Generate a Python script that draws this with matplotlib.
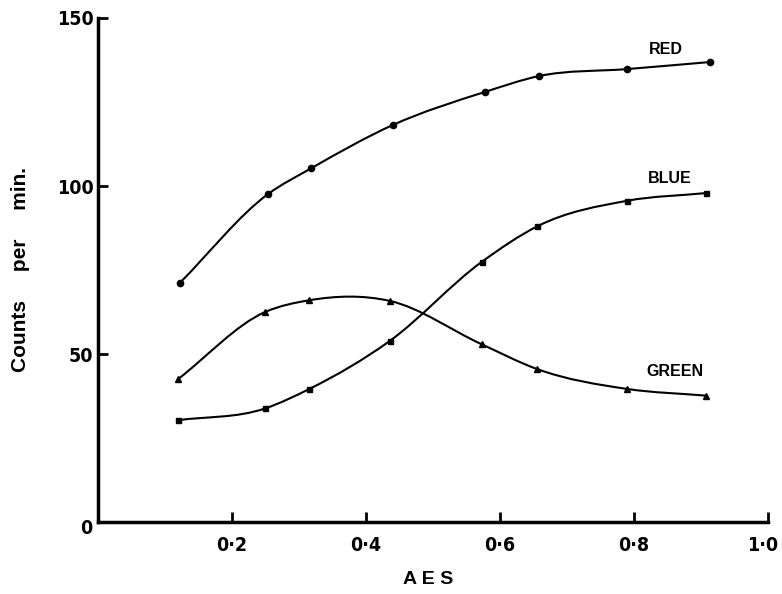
import matplotlib.pyplot as plt
import numpy as np
from matplotlib.path import Path
from matplotlib.patches import PathPatch
from matplotlib.transforms import ScaledTranslation

# данные
aes_red = [0.123, 0.255, 0.319, 0.441, 0.578, 0.658, 0.790, 0.914]
red = [71.2, 97.7, 105.3, 118.2, 128.0, 132.7, 134.8, 136.9]

aes_bg = [0.120, 0.250, 0.316, 0.436, 0.573, 0.656, 0.790, 0.908]
blue = [30.3, 33.8, 39.6, 53.9, 77.4, 88.0, 95.6, 97.9]
green = [42.5, 62.5, 66.0, 65.8, 52.9, 45.5, 39.6, 37.6]

x_ticks = [0.2, 0.4, 0.6, 0.8, 1.0]
x_labels = ['0·2', '0·4', '0·6', '0·8', '1·0']
y_ticks = [0, 50, 100, 150]
y_labels = ['', '50', '100', '150']

plt.rcParams['font.family'] = ['Liberation Sans', 'DejaVu Sans']
num_font = dict(family='DejaVu Sans', fontstretch='condensed', fontweight='bold', fontsize=14)


def smooth_path(xs, ys):
    # гладкая кривая через точки: эрмитовы сплайны как кубические Безье
    x = np.asarray(xs, float)
    y = np.asarray(ys, float)
    h = np.diff(x)
    d = np.diff(y) / h
    m = np.empty_like(y)
    m[0], m[-1] = d[0], d[-1]
    m[1:-1] = (h[:-1] * d[1:] + h[1:] * d[:-1]) / (h[:-1] + h[1:])
    verts = [(x[0], y[0])]
    codes = [Path.MOVETO]
    for i in range(len(x) - 1):
        verts += [(x[i] + h[i] / 3, y[i] + m[i] * h[i] / 3),
                  (x[i + 1] - h[i] / 3, y[i + 1] - m[i + 1] * h[i] / 3),
                  (x[i + 1], y[i + 1])]
        codes += [Path.CURVE4] * 3
    return Path(verts, codes)


fig = plt.figure(figsize=(7.82, 5.94), dpi=100)
ax = fig.add_axes([0.1247, 0.1212, 0.8573, 0.8485])

for xs, ys, mk, ms in [(aes_red, red, 'o', 4.5),
                       (aes_bg, blue, 's', 3.6),
                       (aes_bg, green, '^', 4)]:
    ax.add_patch(PathPatch(smooth_path(xs, ys), fill=False, lw=1.5, ec='black'))
    ax.plot(xs, ys, ls='none', marker=mk, ms=ms, color='black')

ax.text(0.848, 140.5, 'RED', ha='center', va='center', fontsize=11.5, fontweight='bold')
ax.text(0.854, 102.2, 'BLUE', ha='center', va='center', fontsize=11.5, fontweight='bold')
ax.text(0.862, 44.8, 'GREEN', ha='center', va='center', fontsize=11.5, fontweight='bold')

ax.set_xlim(0, 1.0)
ax.set_ylim(0, 150)
ax.spines['top'].set_visible(False)
ax.spines['right'].set_visible(False)
ax.spines['left'].set_linewidth(2.5)
ax.spines['bottom'].set_linewidth(2.5)

ax.set_xticks(x_ticks)
ax.set_xticklabels(x_labels, **num_font)
ax.set_yticks(y_ticks)
ax.set_yticklabels(y_labels, **num_font)
ax.tick_params(direction='in', length=7, width=2)
ax.tick_params(axis='x', pad=10)
ax.tick_params(axis='y', pad=3)

# последнюю подпись чуть влево, чтобы не обрезалась
last = ax.get_xticklabels()[-1]
last.set_transform(last.get_transform() + ScaledTranslation(-4 / 72, 0, fig.dpi_scale_trans))

# общий ноль в углу
ax.annotate('0', xy=(0, 0), xytext=(-8, -4.5), textcoords='offset points',
            ha='center', va='center', **num_font)

fig.text(0.0256, 0.547, 'Counts     per     min.', rotation=90, ha='center', va='center',
         fontsize=15, fontweight='bold')
fig.text(0.547, 0.0244, 'A E S', ha='center', va='center', fontsize=14, fontweight='bold')

fig.savefig('out.png', dpi=100)
